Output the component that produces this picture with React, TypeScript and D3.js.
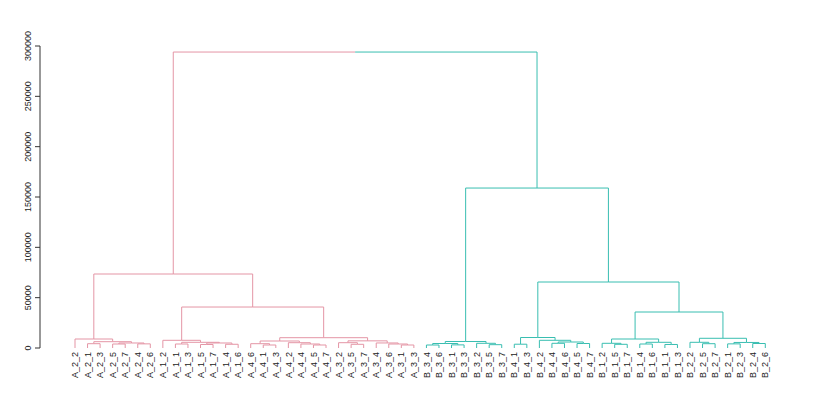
import React, { useEffect } from 'react';
import * as d3 from 'd3';

// leaf order along the bottom (left to right)
const leafLabels = [
  'A_2_2', 'A_2_1', 'A_2_3', 'A_2_5', 'A_2_7', 'A_2_4', 'A_2_6',
  'A_1_2', 'A_1_1', 'A_1_3', 'A_1_5', 'A_1_7', 'A_1_4', 'A_1_6',
  'A_4_6', 'A_4_1', 'A_4_3', 'A_4_2', 'A_4_4', 'A_4_5', 'A_4_7',
  'A_3_2', 'A_3_5', 'A_3_7', 'A_3_4', 'A_3_6', 'A_3_1', 'A_3_3',
  'B_3_4', 'B_3_6', 'B_3_1', 'B_3_3', 'B_3_2', 'B_3_5', 'B_3_7',
  'B_4_1', 'B_4_3', 'B_4_2', 'B_4_4', 'B_4_6', 'B_4_5', 'B_4_7',
  'B_1_2', 'B_1_5', 'B_1_7', 'B_1_4', 'B_1_6', 'B_1_1', 'B_1_3',
  'B_2_2', 'B_2_5', 'B_2_7', 'B_2_1', 'B_2_3', 'B_2_4', 'B_2_6',
];

// merges, hclust style: "mK" refers to the K-th merge row
const mergePairs: [string, string][] = [
  ['A_2_1', 'A_2_3'], ['A_2_5', 'A_2_7'], ['A_2_4', 'A_2_6'], ['m1', 'm2'], ['m0', 'm3'], ['A_2_2', 'm4'],
  ['A_1_1', 'A_1_3'], ['A_1_5', 'A_1_7'], ['A_1_4', 'A_1_6'], ['m7', 'm8'], ['m6', 'm9'], ['A_1_2', 'm10'],
  ['A_4_1', 'A_4_3'], ['A_4_6', 'm12'], ['A_4_5', 'A_4_7'], ['A_4_4', 'm14'], ['A_4_2', 'm15'], ['m13', 'm16'],
  ['A_3_5', 'A_3_7'], ['A_3_2', 'm18'], ['A_3_1', 'A_3_3'], ['A_3_6', 'm20'], ['A_3_4', 'm21'], ['m19', 'm22'],
  ['m17', 'm23'], ['m11', 'm24'], ['m5', 'm25'],
  ['B_3_4', 'B_3_6'], ['B_3_1', 'B_3_3'], ['m27', 'm28'], ['B_3_5', 'B_3_7'], ['B_3_2', 'm30'], ['m29', 'm31'],
  ['B_4_1', 'B_4_3'], ['B_4_4', 'B_4_6'], ['B_4_5', 'B_4_7'], ['m34', 'm35'], ['B_4_2', 'm36'], ['m33', 'm37'],
  ['B_1_5', 'B_1_7'], ['B_1_2', 'm39'], ['B_1_4', 'B_1_6'], ['B_1_1', 'B_1_3'], ['m41', 'm42'], ['m40', 'm43'],
  ['B_2_5', 'B_2_7'], ['B_2_2', 'm45'], ['B_2_1', 'B_2_3'], ['B_2_4', 'B_2_6'], ['m47', 'm48'], ['m46', 'm49'],
  ['m44', 'm50'], ['m38', 'm51'], ['m32', 'm52'], ['m26', 'm53'],
];

const mergeHeights = [
  4270, 3970, 4100, 4970, 6260, 8940,
  3970, 3480, 3700, 4970, 5660, 7650,
  2980, 4270, 2980, 3970, 5270, 6950,
  3670, 5270, 2980, 3970, 5000, 7100,
  10230, 40700, 73500,
  2980, 3100, 4470, 3300, 4670, 6460,
  3770, 4670, 4470, 5960, 7650, 10430,
  3670, 4670, 3970, 3500, 5660, 8940,
  4270, 5660, 4100, 4470, 5500, 9640,
  35760, 65560, 158900, 294000,
];

const yTicks = [0, 50000, 100000, 150000, 200000, 250000, 300000];
const clusterColors = ['#E495A5', '#39BEB1'];

interface TreeNode {
  name: string;
  h: number;
  children?: TreeNode[];
}

function buildTree(): TreeNode {
  const made: TreeNode[] = [];
  const ref = (k: string): TreeNode =>
    /^m\d+$/.test(k) ? made[+k.slice(1)] : { name: k, h: 0 };
  mergePairs.forEach(([a, b], i) => {
    made.push({ name: 'm' + i, h: mergeHeights[i], children: [ref(a), ref(b)] });
  });
  return made[made.length - 1];
}

const W = 822;
const H = 411;

export default function App() {
  useEffect(() => {
    document.body.style.margin = '0';
  }, []);

  const xScale = d3.scaleLinear().domain([0, leafLabels.length - 1]).range([75, 765.3]);
  const yScale = d3.scaleLinear().domain([0, 300000]).range([348, 46]);

  const root = d3.hierarchy(buildTree());
  // leaf x from label order, inner nodes at the middle of their children
  root.eachAfter((n: any) => {
    if (!n.children) n.x = xScale(leafLabels.indexOf(n.data.name));
    else n.x = d3.mean(n.children, (c: any) => c.x);
  });
  // colour each subtree by which top-level cluster it belongs to
  root.children!.forEach((c: any, i: number) => {
    c.each((d: any) => { d.color = clusterColors[i]; });
  });

  const edges = root.descendants().filter((d) => d.parent);

  return (
    <svg width={W} height={H} style={{ display: 'block', position: 'absolute', left: 0, top: 0 }}
      fontFamily="'Liberation Sans', Arial, Helvetica, sans-serif">
      <rect width={W} height={H} fill="white" />
      <g fill="none" strokeWidth={1}>
        {edges.map((d: any, i) => (
          <path key={i} stroke={d.color}
            d={`M${d.parent.x},${yScale(d.parent.data.h)}H${d.x}V${yScale(d.data.h)}`} />
        ))}
      </g>
      <g>
        {root.leaves().map((d: any, i) => (
          <text key={i} x={d.x} y={352} dy="0.35em" fontSize={9} textAnchor="end" fill="#222"
            transform={`rotate(-90,${d.x},352)`}>{d.data.name}</text>
        ))}
      </g>
      <g>
        <line x1={40} x2={40} y1={yScale(0)} y2={yScale(300000)} stroke="#333" />
        {yTicks.map((t) => (
          <g key={t}>
            <line x1={35} x2={40} y1={yScale(t)} y2={yScale(t)} stroke="#333" />
            <text x={31} y={yScale(t)} fontSize={9} textAnchor="middle" fill="#222"
              transform={`rotate(-90,31,${yScale(t)})`}>{t}</text>
          </g>
        ))}
      </g>
    </svg>
  );
}
